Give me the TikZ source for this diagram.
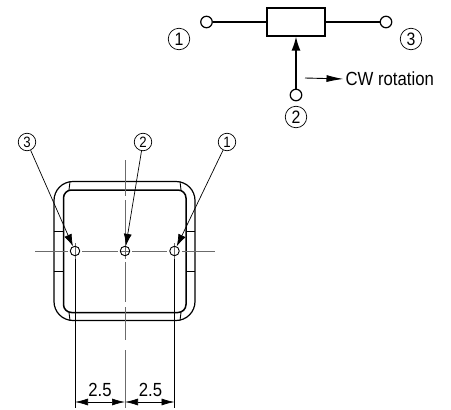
\documentclass[tikz,border=0pt]{standalone}
\usepackage{fontspec}
\setmainfont[FakeStretch=0.88]{Liberation Sans}
\usepackage{tikz}
\usetikzlibrary{positioning,arrows.meta}
\definecolor{centregray}{rgb}{0.42, 0.42, 0.42}
\tikzset{
	terminal/.style={circle, draw=black, fill=white, line width=1.2pt, inner sep=0pt, minimum size=11.5pt},
	pinbig/.style={circle, draw=black, line width=0.7pt, inner sep=0pt, minimum size=21.5pt, font=\fontsize{18}{18}\selectfont},
	pinsmall/.style={circle, draw=black, line width=0.7pt, inner sep=0pt, minimum size=17.5pt, font=\fontsize{15}{15}\selectfont},
	hole/.style={circle, draw=black, line width=0.9pt, inner sep=0pt, minimum size=9.5pt},
	leader/.style={line width=0.7pt, -{Latex[length=12pt,width=8pt]}},
	dimtip/.style={line width=0.7pt, {Latex[length=13pt,width=7pt]}-{Latex[length=13pt,width=7pt]}},
	centreline/.style={line width=0.7pt, draw=centregray},
	dimlabel/.style={inner sep=0pt, font=\fontsize{19}{19}\selectfont}
}
\begin{document}
\begin{tikzpicture}[x=1pt, y=-1pt, on grid, line width=1.2pt]
	\useasboundingbox (0,0) rectangle (451,410);
	% circuit symbol
	\node [rectangle, draw=black, minimum width=58pt, minimum height=28pt] (wiper) at (296,22) {};
	\node [terminal] (T1) [left =89.5pt of wiper] {};
	\node [terminal] (T3) [right =90pt of wiper] {};
	\node [terminal] (T2) [below =73pt of wiper] {};
	\node [pinbig] (N1) at (179,39) {1};
	\node [pinbig] (N3) at (411,39) {3};
	\node [pinbig] (N2) [below =22pt of T2] {2};
	\path (T1) edge (wiper);
	\path (wiper) edge (T3);
	\path (T2) edge [line width=1.4pt, -{Latex[length=14pt,width=9pt]}] (wiper.south);
	\coordinate (CWstart) at (305,78);
	\node [anchor=west, inner sep=0pt, font=\fontsize{19}{19}\selectfont] (CW) at (345,79) {CW rotation};
	\path (CWstart) edge [line width=0.9pt, shorten >=1.5pt, -{Latex[length=17pt,width=7pt]}] (CW.west);
	% housing
	\draw [line width=1.2pt, rounded corners=19pt] (54,251) -- (54,181.5) -- (195,181.5) -- (195,320.5) -- (54,320.5) -- cycle;
	\draw [line width=1.5pt, rounded corners=8pt] (63.5,251) -- (63.5,190) -- (186,190) -- (186,312.5) -- (63.5,312.5) -- cycle;
	\foreach \ytick in {231,271} {
		\draw [line width=0.9pt] (54,\ytick) -- (63.5,\ytick);
		\draw [line width=0.9pt] (186,\ytick) -- (195,\ytick);
	}
	\draw [line width=0.9pt] (70,181.5) -- (69,190);
	\draw [line width=0.9pt] (180,181.5) -- (181,190);
	\draw [line width=0.9pt] (70,320.5) -- (69,312.5);
	\draw [line width=0.9pt] (180,320.5) -- (181,312.5);
	% centre lines
	\foreach \ya/\yb in {160/196,200/259,262/302,307/340,350/408}
		\draw [centreline] (125,\ya) -- (125,\yb);
	\foreach \xa/\xb in {35/54,54/68,82/118,132/167,182/195,195/215}
		\draw [centreline] (\xa,251) -- (\xb,251);
	\draw [centreline] (75,243) -- (75,259);
	\draw [centreline] (174.5,243) -- (174.5,259);
	\draw [centreline] (120,251) -- (130,251);
	\node [hole] (H3) at (75,251) {};
	\node [hole] (H2) at (125,251) {};
	\node [hole] (H1) at (174.5,251) {};
	% pin labels
	\node [pinsmall] (P3) at (27,142) {3};
	\node [pinsmall] (P2) at (143,142) {2};
	\node [pinsmall] (P1) at (227,142) {1};
	\path (P3) edge [leader] (H3);
	\path (P2) edge [leader] (H2);
	\path (P1) edge [leader] (H1);
	% dimensions
	\draw [line width=0.7pt] (75,259) -- (75,408);
	\draw [line width=0.7pt] (174.5,259) -- (174.5,408);
	\coordinate (DL) at (75,402);
	\coordinate (DM) at (125,402);
	\coordinate (DR) at (174.5,402);
	\path (DL) edge [dimtip] (DM);
	\path (DM) edge [dimtip] (DR);
	\node [dimlabel] (D1) at (100,390) {2.5};
	\node [dimlabel] (D2) at (150.5,390) {2.5};
\end{tikzpicture}
\end{document}
